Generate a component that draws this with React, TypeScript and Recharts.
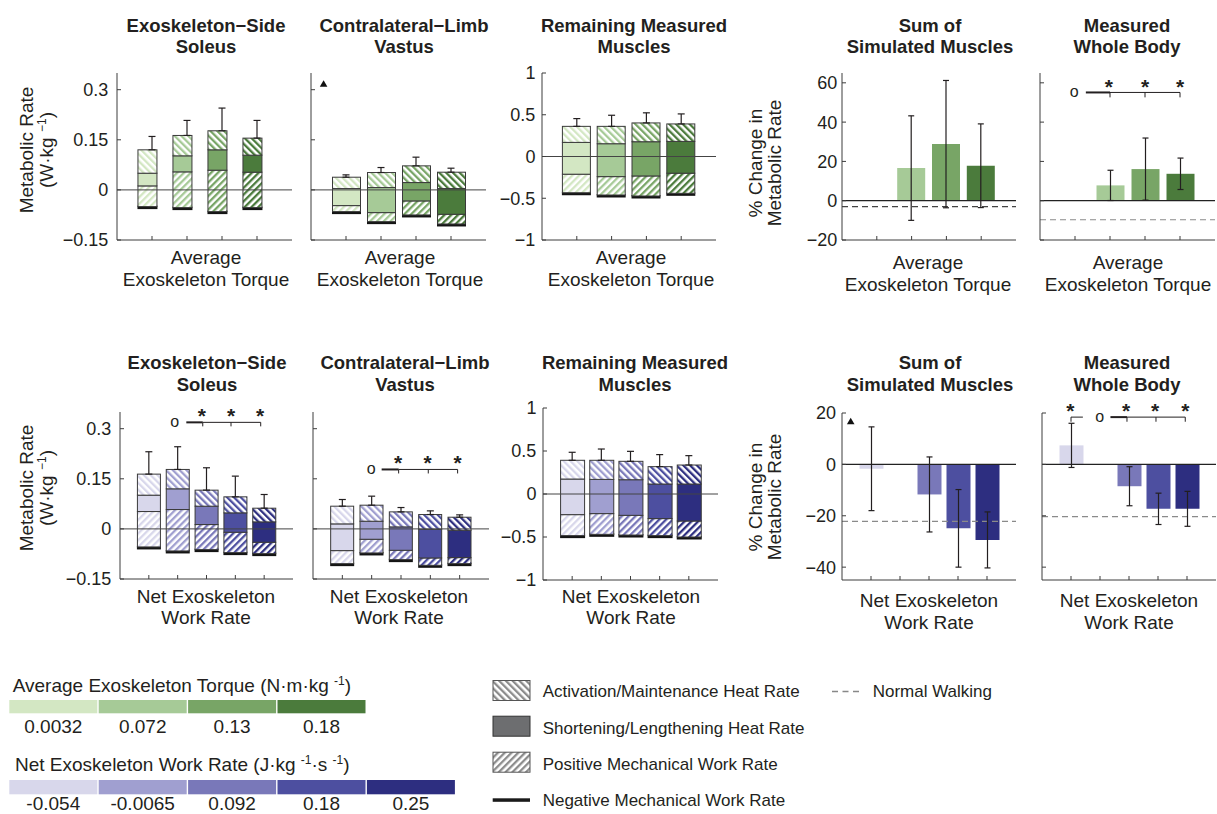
import React from 'react';
import { ComposedChart, Bar, XAxis, YAxis, ReferenceLine, ReferenceDot, Scatter, ErrorBar, Cell } from 'recharts';

const FONT = "'Liberation Sans', Arial, Helvetica, sans-serif";
const INK = '#231f20';
const AXIS = '#3d3d3d';
const EDGE = '#3a3a3a';

// ---------- categories / colours
const torqueLevels = ['0.0032', '0.072', '0.13', '0.18'];
const workLevels = ['-0.054', '-0.0065', '0.092', '0.18', '0.25'];
const torqueColors = ['#d3e7c3', '#a6ca97', '#78a566', '#4b7b3c'];
const workColors = ['#d8d7eb', '#a09fd0', '#7978b9', '#4d4fa0', '#2d2e80'];

// ---------- top row: Average Exoskeleton Torque (W/kg components)
const solTqNeg = [-0.050, -0.053, -0.065, -0.053];
const solTqPos = [0.062, 0.107, 0.124, 0.106];
const solTqShort = [0.038, 0.048, 0.061, 0.051];
const solTqAct = [0.070, 0.061, 0.057, 0.051];
const solTqSd = [0.040, 0.045, 0.068, 0.053];

const vasTqNeg = [-0.065, -0.095, -0.075, -0.102];
const vasTqPos = [0.018, 0.027, 0.042, 0.029];
const vasTqShort = [0.051, 0.075, 0.055, 0.077];
const vasTqAct = [0.034, 0.045, 0.050, 0.049];
const vasTqSd = [0.007, 0.015, 0.026, 0.012];

const remTqNeg = [-0.434, -0.461, -0.473, -0.441];
const remTqPos = [0.222, 0.220, 0.240, 0.241];
const remTqShort = [0.381, 0.394, 0.410, 0.381];
const remTqAct = [0.192, 0.208, 0.225, 0.209];
const remTqSd = [0.093, 0.133, 0.121, 0.120];

const sumTqMean = [0, 16.6, 28.8, 17.8];
const sumTqSd = [0, 26.6, 32.4, 21.3];
const sumTqNormal = -3;
const bodyTqMean = [0, 7.8, 16.1, 13.7];
const bodyTqSd = [0, 7.7, 15.8, 8.0];
const bodyTqNormal = -9.7;

// ---------- bottom row: Net Exoskeleton Work Rate
const solWkNeg = [-0.054, -0.066, -0.062, -0.071, -0.074];
const solWkPos = [0.106, 0.124, 0.075, 0.061, 0.034];
const solWkShort = [0.049, 0.062, 0.055, 0.058, 0.061];
const solWkAct = [0.063, 0.058, 0.048, 0.048, 0.041];
const solWkSd = [0.067, 0.068, 0.067, 0.062, 0.041];

const vasWkNeg = [-0.104, -0.072, -0.092, -0.109, -0.104];
const vasWkPos = [0.039, 0.041, 0.028, 0.022, 0.018];
const vasWkShort = [0.080, 0.054, 0.070, 0.086, 0.082];
const vasWkAct = [0.053, 0.048, 0.045, 0.044, 0.039];
const vasWkSd = [0.020, 0.027, 0.013, 0.011, 0.007];

const remWkNeg = [-0.484, -0.469, -0.477, -0.484, -0.500];
const remWkPos = [0.244, 0.241, 0.229, 0.198, 0.186];
const remWkShort = [0.414, 0.398, 0.414, 0.402, 0.430];
const remWkAct = [0.218, 0.222, 0.214, 0.202, 0.221];
const remWkSd = [0.093, 0.131, 0.116, 0.140, 0.109];

const sumWkMean = [-1.7, 0, -11.7, -24.9, -29.4];
const sumWkSd = [16.3, 0, 14.6, 15.1, 10.9];
const sumWkNormal = -22.2;
const bodyWkMean = [7.4, 0, -8.5, -17.3, -17.3];
const bodyWkSd = [8.6, 0, 7.6, 6.1, 6.8];
const bodyWkNormal = -20.3;

// ---------- axis ticks
const solTicks = [-0.15, 0, 0.15, 0.3];
const remTicks = [-1, -0.5, 0, 0.5, 1];
const pctTopTicks = [-20, 0, 20, 40, 60];
const pctBotTicks = [-40, -20, 0, 20];

// ---------- significance annotations
type Note =
  | { t: 'line'; x1: number; x2: number; y: number; w: number }
  | { t: 'tick'; x: number; y1: number; y2: number }
  | { t: 'mark'; x: number; y: number; s: string };

const vasTqNotes: Note[] = [{ t: 'mark', x: 0.36, y: 0.318, s: 'tri' }];
const bodyTqNotes: Note[] = [
  { t: 'mark', x: 0.98, y: 55.1, s: 'o' },
  { t: 'line', x1: 1.31, x2: 2, y: 55.1, w: 2 },
  { t: 'line', x1: 2, x2: 4, y: 55.1, w: 1 },
  { t: 'tick', x: 2, y1: 55.1, y2: 52.6 },
  { t: 'tick', x: 3, y1: 55.1, y2: 52.6 },
  { t: 'tick', x: 4, y1: 55.1, y2: 52.6 },
  { t: 'mark', x: 1.97, y: 58.9, s: '*' },
  { t: 'mark', x: 3, y: 58.9, s: '*' },
  { t: 'mark', x: 4, y: 58.9, s: '*' },
];
const solWkNotes: Note[] = [
  { t: 'mark', x: 1.9, y: 0.319, s: 'o' },
  { t: 'line', x1: 2.3, x2: 2.87, y: 0.319, w: 2 },
  { t: 'line', x1: 2.87, x2: 4.88, y: 0.319, w: 1 },
  { t: 'tick', x: 2.87, y1: 0.319, y2: 0.307 },
  { t: 'tick', x: 3.85, y1: 0.319, y2: 0.307 },
  { t: 'tick', x: 4.88, y1: 0.319, y2: 0.307 },
  { t: 'mark', x: 2.84, y: 0.345, s: '*' },
  { t: 'mark', x: 3.85, y: 0.345, s: '*' },
  { t: 'mark', x: 4.86, y: 0.345, s: '*' },
];
const vasWkNotes: Note[] = [
  { t: 'mark', x: 1.98, y: 0.177, s: 'o' },
  { t: 'line', x1: 2.34, x2: 2.92, y: 0.178, w: 2 },
  { t: 'line', x1: 2.92, x2: 4.93, y: 0.178, w: 1 },
  { t: 'tick', x: 2.92, y1: 0.178, y2: 0.166 },
  { t: 'tick', x: 3.93, y1: 0.178, y2: 0.166 },
  { t: 'tick', x: 4.93, y1: 0.178, y2: 0.166 },
  { t: 'mark', x: 2.9, y: 0.202, s: '*' },
  { t: 'mark', x: 3.91, y: 0.202, s: '*' },
  { t: 'mark', x: 4.93, y: 0.202, s: '*' },
];
const sumWkNotes: Note[] = [{ t: 'mark', x: 0.3, y: 16.8, s: 'tri' }];
const bodyWkNotes: Note[] = [
  { t: 'mark', x: 0.98, y: 21.6, s: '*' },
  { t: 'tick', x: 1.0, y1: 18.4, y2: 16.6 },
  { t: 'line', x1: 1.0, x2: 1.41, y: 18.4, w: 1 },
  { t: 'mark', x: 1.99, y: 18.4, s: 'o' },
  { t: 'line', x1: 2.36, x2: 2.93, y: 18.4, w: 2 },
  { t: 'line', x1: 2.93, x2: 4.94, y: 18.4, w: 1 },
  { t: 'tick', x: 2.93, y1: 18.4, y2: 16.6 },
  { t: 'tick', x: 3.93, y1: 18.4, y2: 16.6 },
  { t: 'tick', x: 4.94, y1: 18.4, y2: 16.6 },
  { t: 'mark', x: 2.9, y: 21.6, s: '*' },
  { t: 'mark', x: 3.9, y: 21.6, s: '*' },
  { t: 'mark', x: 4.94, y: 21.6, s: '*' },
];

// ---------- text
const panelTitles = [
  ['Exoskeleton\u2212Side', 'Soleus'],
  ['Contralateral\u2212Limb', 'Vastus'],
  ['Remaining Measured', 'Muscles'],
  ['Sum of', 'Simulated Muscles'],
  ['Measured', 'Whole Body'],
];
const topXLabel = ['Average', 'Exoskeleton Torque'];
const botXLabel = ['Net Exoskeleton', 'Work Rate'];
const patternLegend = [
  'Activation/Maintenance Heat Rate',
  'Shortening/Lengthening Heat Rate',
  'Positive Mechanical Work Rate',
  'Negative Mechanical Work Rate',
];

// ---------- layout
type Rect = { left: number; top: number; w: number; h: number };
const YW = 60;
const MT = 26;
const MR = 12;
const XH = 12;

const yFmt = (v: number) => (v < 0 ? '\u2212' + String(Math.abs(v)) : String(v));
const blank = () => '';

function Hatch({ id, color, angle }: { id: string; color: string; angle: number }) {
  return (
    <pattern id={id} patternUnits="userSpaceOnUse" width={4.8} height={4.8} patternTransform={`rotate(${angle})`}>
      <rect x={0} y={0} width={4.8} height={4.8} fill="#fff" />
      <rect x={0} y={0} width={2.3} height={4.8} fill={color} />
    </pattern>
  );
}

function segShape(fillFor: (i: number) => string) {
  return (p: any) => {
    const top = p.height < 0 ? p.y + p.height : p.y;
    return <rect x={p.x} y={top} width={p.width} height={Math.abs(p.height)} fill={fillFor(p.index)} stroke={EDGE} strokeWidth={1} />;
  };
}

const negShape = (p: any) => {
  const bottom = Math.max(p.y, p.y + p.height);
  return <rect x={p.x - 0.5} y={bottom - 1} width={p.width + 1} height={3.5} fill="#141414" />;
};

const emptyShape = () => <g />;

function renderNotes(notes: Note[]) {
  return notes.map((n, k) => {
    if (n.t === 'line') {
      return <ReferenceLine key={'n' + k} segment={[{ x: n.x1, y: n.y }, { x: n.x2, y: n.y }]} stroke={INK} strokeWidth={n.w} ifOverflow="visible" />;
    }
    if (n.t === 'tick') {
      return <ReferenceLine key={'n' + k} segment={[{ x: n.x, y: n.y1 }, { x: n.x, y: n.y2 }]} stroke={INK} strokeWidth={1} ifOverflow="visible" />;
    }
    const s = n.s;
    return (
      <ReferenceDot
        key={'n' + k}
        x={n.x}
        y={n.y}
        r={0}
        ifOverflow="visible"
        shape={(p: any) => {
          if (s === 'tri') {
            return <polygon points={`${p.cx - 3.8},${p.cy + 3} ${p.cx + 3.8},${p.cy + 3} ${p.cx},${p.cy - 3.5}`} fill="#111" />;
          }
          if (s === '*') {
            return <text x={p.cx} y={p.cy + 9} textAnchor="middle" fontSize={21} fontWeight={700} fontFamily={FONT} fill={INK}>*</text>;
          }
          return <text x={p.cx} y={p.cy + 4.6} textAnchor="middle" fontSize={16} fontFamily={FONT} fill={INK}>o</text>;
        }}
      />
    );
  });
}

type StackProps = {
  plot: Rect; domain: [number, number]; ticks: number[]; labels: boolean; margin: number;
  barSize: number; barShift: number; tag: string; colors: string[];
  neg: number[]; pos: number[]; short: number[]; act: number[]; sd: number[]; notes: Note[];
};

function StackPanel(pr: StackProps) {
  const { plot, domain, ticks, labels, margin, barSize, barShift, tag, colors, neg, pos, short, act, sd, notes } = pr;
  const n = neg.length;
  const rows = neg.map((v, i) => ({ x: i + 1 + barShift, neg: v, pos: pos[i], short: short[i], act: act[i] }));
  const errRows = neg.map((v, i) => ({ x: i + 1, y: v + pos[i] + short[i] + act[i], err: [0, sd[i]] }));
  const xt = neg.map((_, i) => i + 1);
  return (
    <div style={{ position: 'absolute', left: plot.left - YW, top: plot.top - MT }}>
      <ComposedChart width={plot.w + YW + MR} height={plot.h + MT + XH} data={rows} margin={{ top: MT, right: MR, left: 0, bottom: 0 }}>
        <XAxis type="number" dataKey="x" domain={[0, n + 1]} ticks={xt} interval={0} tickFormatter={blank} tickSize={-4} height={XH}
          axisLine={{ stroke: AXIS }} tickLine={{ stroke: AXIS }} allowDataOverflow />
        <XAxis xAxisId="e" type="number" dataKey="x" domain={[0, n + 1]} hide allowDataOverflow />
        <YAxis type="number" domain={domain} ticks={ticks} interval={0} width={YW} tickSize={-4} tickMargin={margin}
          tickFormatter={labels ? yFmt : blank} allowDataOverflow axisLine={{ stroke: AXIS }} tickLine={{ stroke: AXIS }}
          tick={{ fontSize: 18, fill: INK, fontFamily: FONT }} />
        <ReferenceLine y={0} stroke="#444" strokeWidth={1} />
        <Bar dataKey="neg" stackId="s" barSize={barSize} isAnimationActive={false} shape={negShape} />
        <Bar dataKey="pos" stackId="s" barSize={barSize} isAnimationActive={false} shape={segShape((i) => `url(#pos-${tag}-${i})`)} />
        <Bar dataKey="short" stackId="s" barSize={barSize} isAnimationActive={false} shape={segShape((i) => colors[i])} />
        <Bar dataKey="act" stackId="s" barSize={barSize} isAnimationActive={false} shape={segShape((i) => `url(#act-${tag}-${i})`)} />
        <Scatter xAxisId="e" data={errRows} dataKey="y" shape={emptyShape} isAnimationActive={false}>
          <ErrorBar dataKey="err" direction="y" width={3.5} stroke={INK} strokeWidth={1.2} isAnimationActive={false} />
        </Scatter>
        {renderNotes(notes)}
      </ComposedChart>
    </div>
  );
}

type PctProps = {
  plot: Rect; domain: [number, number]; ticks: number[]; labels: boolean; margin: number; barSize: number;
  colors: string[]; mean: number[]; sd: number[]; normal: number; normalColor: string; notes: Note[];
};

function PctPanel(pr: PctProps) {
  const { plot, domain, ticks, labels, margin, barSize, colors, mean, sd, normal, normalColor, notes } = pr;
  const n = mean.length;
  const rows = mean.map((m, i) => ({ x: i + 1, m, sd: sd[i] }));
  const xt = mean.map((_, i) => i + 1);
  return (
    <div style={{ position: 'absolute', left: plot.left - YW, top: plot.top - MT }}>
      <ComposedChart width={plot.w + YW + MR} height={plot.h + MT + XH} data={rows} margin={{ top: MT, right: MR, left: 0, bottom: 0 }}>
        <XAxis type="number" dataKey="x" domain={[0, n + 1]} ticks={xt} interval={0} tickFormatter={blank} tickSize={-4} height={XH}
          axisLine={{ stroke: AXIS }} tickLine={{ stroke: AXIS }} allowDataOverflow />
        <YAxis type="number" domain={domain} ticks={ticks} interval={0} width={YW} tickSize={-4} tickMargin={margin}
          tickFormatter={labels ? yFmt : blank} allowDataOverflow axisLine={{ stroke: AXIS }} tickLine={{ stroke: AXIS }}
          tick={{ fontSize: 18, fill: INK, fontFamily: FONT }} />
        <ReferenceLine y={normal} stroke={normalColor} strokeWidth={1.2} strokeDasharray="6 4" />
        <ReferenceLine y={0} stroke="#222" strokeWidth={1.2} />
        <Bar dataKey="m" barSize={barSize} isAnimationActive={false}>
          {rows.map((_, i) => <Cell key={i} fill={colors[i]} />)}
          <ErrorBar dataKey="sd" direction="y" width={3} stroke={INK} strokeWidth={1.2} isAnimationActive={false} />
        </Bar>
        {renderNotes(notes)}
      </ComposedChart>
    </div>
  );
}

function Overlay() {
  const titleX = [206, 404, 634, 930, 1127];
  const titleXb = [207, 405, 635, 930, 1127];
  const tl = { fontSize: 18.5, fontWeight: 700, fill: INK, fontFamily: FONT } as const;
  const lab = { fontSize: 19, fill: INK, fontFamily: FONT } as const;
  const leg = { fontSize: 17, fill: INK, fontFamily: FONT } as const;
  return (
    <svg width={1217} height={814} style={{ position: 'absolute', left: 0, top: 0 }}>
      <defs>
        {torqueColors.map((c, i) => <Hatch key={'at' + i} id={`act-tq-${i}`} color={c} angle={-45} />)}
        {torqueColors.map((c, i) => <Hatch key={'pt' + i} id={`pos-tq-${i}`} color={c} angle={45} />)}
        {workColors.map((c, i) => <Hatch key={'aw' + i} id={`act-wk-${i}`} color={c} angle={-45} />)}
        {workColors.map((c, i) => <Hatch key={'pw' + i} id={`pos-wk-${i}`} color={c} angle={45} />)}
        <Hatch id="act-k" color="#8c8c8c" angle={-45} />
        <Hatch id="pos-k" color="#8c8c8c" angle={45} />
      </defs>

      {panelTitles.map((t, i) => (
        <g key={'tt' + i}>
          <text x={titleX[i]} y={31.7} textAnchor="middle" {...tl}>{t[0]}</text>
          <text x={titleX[i]} y={53.3} textAnchor="middle" {...tl}>{t[1]}</text>
          <text x={titleXb[i]} y={368.6} textAnchor="middle" {...tl}>{t[0]}</text>
          <text x={titleXb[i]} y={391.2} textAnchor="middle" {...tl}>{t[1]}</text>
        </g>
      ))}

      {[206, 400, 631].map((x, i) => (
        <g key={'xl' + i}>
          <text x={x} y={264} textAnchor="middle" {...lab}>{topXLabel[0]}</text>
          <text x={x} y={286} textAnchor="middle" {...lab}>{topXLabel[1]}</text>
        </g>
      ))}
      {[928, 1128].map((x, i) => (
        <g key={'xr' + i}>
          <text x={x} y={269} textAnchor="middle" {...lab}>{topXLabel[0]}</text>
          <text x={x} y={291} textAnchor="middle" {...lab}>{topXLabel[1]}</text>
        </g>
      ))}
      {[206, 399, 631].map((x, i) => (
        <g key={'bl' + i}>
          <text x={x} y={602.7} textAnchor="middle" {...lab}>{botXLabel[0]}</text>
          <text x={x} y={624.3} textAnchor="middle" {...lab}>{botXLabel[1]}</text>
        </g>
      ))}
      {[929, 1129].map((x, i) => (
        <g key={'br' + i}>
          <text x={x} y={607.3} textAnchor="middle" {...lab}>{botXLabel[0]}</text>
          <text x={x} y={628.8} textAnchor="middle" {...lab}>{botXLabel[1]}</text>
        </g>
      ))}

      {[150, 488].map((cy, i) => (
        <g key={'yl' + i}>
          <text transform={`translate(33,${cy}) rotate(-90)`} textAnchor="middle" {...lab}>Metabolic Rate</text>
          <text transform={`translate(53,${cy}) rotate(-90)`} textAnchor="middle" {...lab}>
            <tspan>(W·kg </tspan>
            <tspan dy={-7} fontSize={12}>{'\u2212'}1</tspan>
            <tspan dy={7}>)</tspan>
          </text>
        </g>
      ))}
      {[163, 497].map((cy, i) => (
        <g key={'yr' + i}>
          <text transform={`translate(762,${cy}) rotate(-90)`} textAnchor="middle" {...lab}>% Change in</text>
          <text transform={`translate(781,${cy}) rotate(-90)`} textAnchor="middle" {...lab}>Metabolic Rate</text>
        </g>
      ))}

      {/* colour legends */}
      <text x={12.7} y={691.7} {...lab}>
        <tspan>Average Exoskeleton Torque (N·m·kg </tspan>
        <tspan dy={-7} fontSize={12}>-1</tspan>
        <tspan dy={7}>)</tspan>
      </text>
      {torqueColors.map((c, i) => (
        <g key={'lt' + i}>
          <rect x={9.3 + i * 89.4} y={700} width={88} height={13.3} fill={c} />
          <text x={9.3 + i * 89.4 + 44} y={733.3} textAnchor="middle" {...lab}>{torqueLevels[i]}</text>
        </g>
      ))}
      <text x={15} y={771} {...lab}>
        <tspan>Net Exoskeleton Work Rate (J·kg </tspan>
        <tspan dy={-7} fontSize={12}>-1</tspan>
        <tspan dy={7}>·s </tspan>
        <tspan dy={-7} fontSize={12}>-1</tspan>
        <tspan dy={7}>)</tspan>
      </text>
      {workColors.map((c, i) => (
        <g key={'lw' + i}>
          <rect x={9.3 + i * 89.4} y={780} width={88} height={14.3} fill={c} />
          <text x={9.3 + i * 89.4 + 44} y={810} textAnchor="middle" {...lab}>{workLevels[i]}</text>
        </g>
      ))}

      {/* component legend */}
      <rect x={493} y={680.5} width={37} height={20} fill="url(#act-k)" stroke="#555" strokeWidth={1} />
      <rect x={493} y={716.2} width={37} height={20} fill="#6d6e70" stroke="#333" strokeWidth={1} />
      <rect x={493} y={752.2} width={37} height={20} fill="url(#pos-k)" stroke="#555" strokeWidth={1} />
      <rect x={492.7} y={798.3} width={37.3} height={3.5} fill="#1a1a1a" />
      {patternLegend.map((t, i) => (
        <text key={'pl' + i} x={542.7} y={[697.3, 734, 770, 805.7][i]} {...leg}>{t}</text>
      ))}
      <line x1={832} x2={863} y1={691.5} y2={691.5} stroke="#888" strokeWidth={1.3} strokeDasharray="6 4.5" />
      <text x={872.7} y={697.3} {...leg}>Normal Walking</text>
    </svg>
  );
}

export default function App() {
  return (
    <div style={{ position: 'absolute', left: 0, top: 0, width: 1217, height: 814, overflow: 'hidden', background: '#fff', fontFamily: FONT }}>
      <Overlay />
      <StackPanel plot={{ left: 117, top: 73.3, w: 175, h: 167 }} domain={[-0.15, 0.35]} ticks={solTicks} labels margin={12.7}
        barSize={19} barShift={-0.13} tag="tq" colors={torqueColors}
        neg={solTqNeg} pos={solTqPos} short={solTqShort} act={solTqAct} sd={solTqSd} notes={[]} />
      <StackPanel plot={{ left: 310.7, top: 73.3, w: 175, h: 167 }} domain={[-0.15, 0.35]} ticks={solTicks} labels={false} margin={12}
        barSize={28} barShift={0} tag="tq" colors={torqueColors}
        neg={vasTqNeg} pos={vasTqPos} short={vasTqShort} act={vasTqAct} sd={vasTqSd} notes={vasTqNotes} />
      <StackPanel plot={{ left: 542.3, top: 73.3, w: 174, h: 167 }} domain={[-1, 1]} ticks={remTicks} labels margin={10.6}
        barSize={28} barShift={0} tag="tq" colors={torqueColors}
        neg={remTqNeg} pos={remTqPos} short={remTqShort} act={remTqAct} sd={remTqSd} notes={[]} />
      <PctPanel plot={{ left: 841.7, top: 73.3, w: 174, h: 167 }} domain={[-20, 65]} ticks={pctTopTicks} labels margin={8.8}
        barSize={28} colors={torqueColors} mean={sumTqMean} sd={sumTqSd} normal={sumTqNormal} normalColor="#444" notes={[]} />
      <PctPanel plot={{ left: 1040, top: 73.3, w: 175, h: 167 }} domain={[-20, 65]} ticks={pctTopTicks} labels={false} margin={9}
        barSize={28} colors={torqueColors} mean={bodyTqMean} sd={bodyTqSd} normal={bodyTqNormal} normalColor="#8a8a8a" notes={bodyTqNotes} />

      <StackPanel plot={{ left: 120, top: 412, w: 173, h: 167 }} domain={[-0.15, 0.35]} ticks={solTicks} labels margin={12.7}
        barSize={23} barShift={0} tag="wk" colors={workColors}
        neg={solWkNeg} pos={solWkPos} short={solWkShort} act={solWkAct} sd={solWkSd} notes={solWkNotes} />
      <StackPanel plot={{ left: 312.7, top: 412, w: 176, h: 167 }} domain={[-0.15, 0.35]} ticks={solTicks} labels={false} margin={12}
        barSize={23} barShift={0} tag="wk" colors={workColors}
        neg={vasWkNeg} pos={vasWkPos} short={vasWkShort} act={vasWkAct} sd={vasWkSd} notes={vasWkNotes} />
      <StackPanel plot={{ left: 543.3, top: 407.7, w: 175, h: 172 }} domain={[-1, 1]} ticks={remTicks} labels margin={10.6}
        barSize={24} barShift={0} tag="wk" colors={workColors}
        neg={remWkNeg} pos={remWkPos} short={remWkShort} act={remWkAct} sd={remWkSd} notes={[]} />
      <PctPanel plot={{ left: 842.3, top: 412.7, w: 174, h: 167 }} domain={[-45, 20]} ticks={pctBotTicks} labels margin={10}
        barSize={24} colors={workColors} mean={sumWkMean} sd={sumWkSd} normal={sumWkNormal} normalColor="#8a8a8a" notes={sumWkNotes} />
      <PctPanel plot={{ left: 1041.7, top: 412.7, w: 174, h: 167 }} domain={[-45, 20]} ticks={pctBotTicks} labels={false} margin={9}
        barSize={24} colors={workColors} mean={bodyWkMean} sd={bodyWkSd} normal={bodyWkNormal} normalColor="#8a8a8a" notes={bodyWkNotes} />
    </div>
  );
}
